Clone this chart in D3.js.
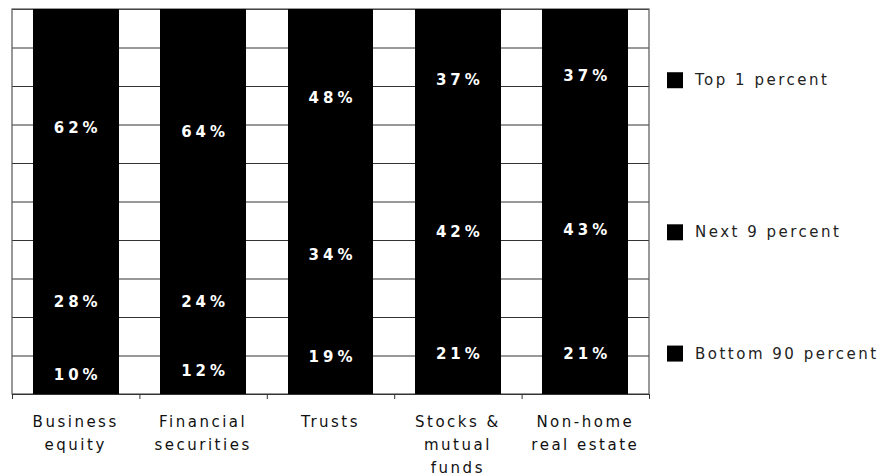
<!DOCTYPE html>
<html>
<head>
<meta charset="utf-8">
<script src="https://cdn.jsdelivr.net/npm/d3@7"></script>
<style>
  body { margin: 0; background: #fff; }
  svg { display: block; font-family: "DejaVu Sans", Verdana, sans-serif; }
</style>
</head>
<body>
<svg id="chart" width="889" height="476"></svg>
<script>
const categories = ['Business equity', 'Financial securities', 'Trusts', 'Stocks & mutual funds', 'Non-home real estate'];
const categoryLines = [['Business', 'equity'], ['Financial', 'securities'], ['Trusts'], ['Stocks &', 'mutual', 'funds'], ['Non-home', 'real estate']];
const groups = ['Bottom 90 percent', 'Next 9 percent', 'Top 1 percent'];
const bottom90 = [10, 12, 19, 21, 21];
const next9 = [28, 24, 34, 42, 43];
const top1 = [62, 64, 48, 37, 37];

const rows = categories.map((c, i) => ({
  category: c,
  'Bottom 90 percent': bottom90[i],
  'Next 9 percent': next9[i],
  'Top 1 percent': top1[i]
}));

const svg = d3.select('#chart');
const plotLeft = 12, plotRight = 649, plotTop = 9, plotBottom = 394;

const x = d3.scaleBand()
  .domain(categories)
  .range([plotLeft, plotRight])
  .paddingInner(0.325)
  .paddingOuter(0.1625);

const xEdges = d3.scaleLinear().domain([0, categories.length]).range([plotLeft, plotRight]);

const y = d3.scaleLinear().domain([0, 100]).range([plotBottom, plotTop]).clamp(true);

// gridlines
svg.append('g')
  .attr('transform', `translate(${plotLeft},0)`)
  .call(d3.axisLeft(y).ticks(10).tickSize(-(plotRight - plotLeft)).tickFormat(''))
  .call(g => g.select('.domain').remove())
  .call(g => g.selectAll('line').attr('stroke', '#333').attr('stroke-width', 1));

// frame
svg.append('rect')
  .attr('x', plotLeft).attr('y', plotTop)
  .attr('width', plotRight - plotLeft).attr('height', plotBottom - plotTop)
  .attr('fill', 'none').attr('stroke', '#555').attr('stroke-width', 1.2);

const stacked = d3.stack().keys(groups)(rows);

const layer = svg.append('g').selectAll('g')
  .data(stacked)
  .join('g');

// segments overlap by a pixel so no seam shows between them
layer.selectAll('rect')
  .data(d => d)
  .join('rect')
  .attr('x', d => x(d.data.category))
  .attr('y', d => y(d[1]))
  .attr('width', x.bandwidth())
  .attr('height', d => y(d[0]) - y(d[1]) + 1)
  .attr('fill', '#000')
  .attr('shape-rendering', 'crispEdges');

layer.selectAll('text')
  .data(d => d.map(v => ({ v, key: d.key })))
  .join('text')
  .attr('x', d => x(d.v.data.category) + x.bandwidth() / 2 + 2)
  .attr('y', d => y((d.v[0] + d.v[1]) / 2) + 5)
  .attr('text-anchor', 'middle')
  .attr('fill', '#fff')
  .attr('font-size', 15)
  .attr('font-weight', 'bold')
  .attr('letter-spacing', 4)
  .text(d => d.v.data[d.key] + '%');

// x axis
svg.append('g')
  .attr('transform', `translate(0,${plotBottom})`)
  .call(d3.axisBottom(xEdges).ticks(categories.length).tickSize(5).tickFormat(''))
  .call(g => g.select('.domain').attr('stroke', '#333'))
  .call(g => g.selectAll('line').attr('stroke', '#333'));

const labels = svg.append('g').selectAll('text')
  .data(categories)
  .join('text')
  .attr('text-anchor', 'middle')
  .attr('font-size', 15)
  .attr('letter-spacing', 2.5)
  .attr('fill', '#111');

labels.selectAll('tspan')
  .data((d, i) => categoryLines[i].map(line => ({ line, c: d })))
  .join('tspan')
  .attr('x', d => x(d.c) + x.bandwidth() / 2)
  .attr('y', (d, j) => 427 + j * 23)
  .text(d => d.line);

// legend, aligned with the Stocks & mutual funds segments
const ref = stacked.map(s => s[3]);
const legend = svg.append('g').selectAll('g')
  .data(stacked.map(s => s.key).reverse())
  .join('g')
  .attr('transform', d => {
    const s = ref[groups.indexOf(d)];
    return `translate(667,${y((s[0] + s[1]) / 2)})`;
  });

legend.append('rect')
  .attr('x', 0).attr('y', -8)
  .attr('width', 16).attr('height', 16)
  .attr('fill', '#000');

legend.append('text')
  .attr('x', 28).attr('y', 5)
  .attr('font-size', 15)
  .attr('letter-spacing', 2.5)
  .attr('fill', '#222')
  .text(d => d);
</script>
</body>
</html>
